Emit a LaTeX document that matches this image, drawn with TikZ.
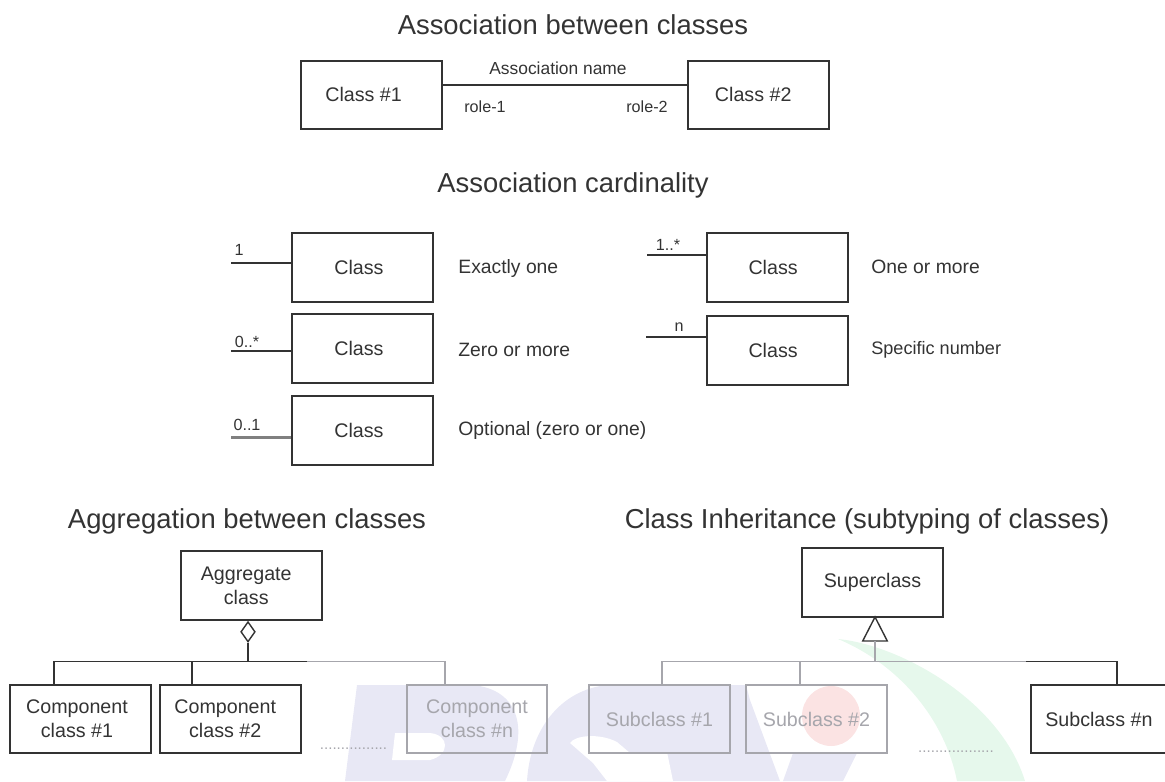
\documentclass[tikz,border=0pt]{standalone}
\usepackage{fontspec}
\setmainfont{Liberation Sans}
\usetikzlibrary{positioning,shapes.geometric}
\definecolor{ink}{HTML}{333333}
\definecolor{fade}{HTML}{A6A6AC}
\definecolor{wmblue}{HTML}{E8E8F5}
\definecolor{wmred}{HTML}{FBE3E3}
\definecolor{wmgreen}{HTML}{E6F8EC}
\tikzset{
  classbox/.style={draw=ink,line width=1pt,minimum width=80pt,minimum height=39pt,inner sep=0pt,align=center,text=ink,font=\fontsize{11.2}{13.5}\selectfont},
  fadebox/.style={classbox,draw=fade,text=fade},
  titletext/.style={text=ink,inner sep=0pt,font=\fontsize{15.6}{18}\selectfont},
  desctext/.style={text=ink,inner sep=0pt,anchor=west,font=\fontsize{11}{13}\selectfont},
  smalltext/.style={text=ink,inner sep=0pt,font=\fontsize{9.2}{11}\selectfont},
  dotstext/.style={text=fade,inner sep=0pt,font=\fontsize{8.6}{9}\selectfont},
  link/.style={draw=ink,line width=1pt},
  fadelink/.style={draw=fade,line width=1pt},
  optlink/.style={draw=gray,line width=1.7pt}
}
\begin{document}
\begin{tikzpicture}[x=0.02cm,y=-0.02cm]
  \useasboundingbox (0,0) rectangle (1165,781);
  % watermark
  \fill[wmblue] (345,781)--(357,685)--(473,685) .. controls (520,690) and (530,730) .. (505,781)--cycle;
  \fill[white] (395,733)--(430,733) .. controls (450,735) and (450,755) .. (430,760)--(392,760)--cycle;
  \fill[wmblue] (527,781) .. controls (530,730) and (560,690) .. (607,685)--(746,685)--(750,700)--(780,781)--cycle;
  \fill[white] (570,743) .. controls (575,735) and (600,733) .. (617,742)--(630,753)--(667,752)--(673,781)--(607,781)--(593,763)--cycle;
  \fill[wmblue] (793,753)--(857,753)--(843,781)--(783,781)--cycle;
  \fill[wmred] (831,716) ellipse (29 and 30);
  \fill[wmgreen] (838,639) .. controls (900,645) and (1000,700) .. (1025,781)--(957,781) .. controls (945,720) and (900,665) .. (838,639)--cycle;

  \node[titletext] (titleassoc) at (573,25) {Association between classes};
  \node[titletext] (titlecard) at (573,185) {Association cardinality};
  \node[titletext] (titleaggr) at (247,521) {Aggregation between classes};
  \node[titletext] (titleinh) at (867,521) {Class Inheritance (subtyping of classes)};

  % association
  \node[classbox] (classone) at (371.5,95) {\raisebox{1pt}{Class \#1}\kern9pt};
  \node[classbox] (classtwo) at (758.5,95) {\raisebox{1pt}{Class \#2}\kern6pt};
  \coordinate (assocline) at (442,85);
  \draw[link] (assocline) -- (assocline -| classtwo.west);
  \node[smalltext,font=\fontsize{9.9}{11}\selectfont] (assocname) at (558,68) {Association name};
  \node[smalltext] (roleone) at (485,107) {role-1};
  \node[smalltext] (roletwo) at (647,107) {role-2};

  % cardinality
  \foreach \name/\x/\y/\nudge/\stubx/\stuby/\stubstyle/\lab/\labx/\laby/\descx/\descy/\desc in {
      cardone/362.5/267.5/4pt/231/263/link/1/239/250/458/268/Exactly one,
      cardzero/362.5/348.5/4pt/231/351/link/0..*/247/342/458/350/Zero or more,
      cardopt/362.5/430.5/4pt/231/437/optlink/0..1/247/425/458/430/Optional (zero or one),
      cardmany/777.5/267.5/5pt/647/255/link/1..*/668/245/871/267/One or more,
      cardn/777.5/350.5/5pt/646/337/link/n/679/327/871/350/{\fontsize{10.3}{13}\selectfont Specific number}} {
    \node[classbox] (\name) at (\x,\y) {Class\kern\nudge};
    \coordinate (\name stub) at (\stubx,\stuby);
    \draw[\stubstyle] (\name stub) -- (\name stub -| \name.west);
    \node[smalltext] (\name lab) at (\labx,\laby) {\lab};
    \node[desctext] (\name desc) at (\descx,\descy) {\desc};
  }

  % aggregation
  \node[classbox] (aggr) at (251.5,585.5) {Aggregate\kern6pt\\class\kern6pt};
  \node[classbox] (compone) at (80.5,719) {Component\kern4pt\\class \#1\kern4pt};
  \node[classbox] (comptwo) at (230.5,719) {Component\kern6pt\\class \#2\kern6pt};
  \node[fadebox] (compn) at (477,719) {Component\\class \#n};
  \node[diamond,draw=ink,fill=white,line width=0.8pt,inner sep=0pt,minimum width=8.2pt,minimum height=11.5pt,anchor=north] (aggrtip) at (248,621) {};
  \coordinate (aggrbus) at (248,661.5);
  \coordinate (aggrfade) at (307,661.5);
  \draw[link] (aggrtip.south) -- (aggrbus);
  \draw[fadelink] (aggrfade) -| (445,684);
  \draw[link] (aggrfade) -- (54,661.5) -- (54,684);
  \draw[link] (192,661.5) -- (192,684);
  \node[dotstext] (aggrdots) at (353.5,749) {................};

  % inheritance
  \node[classbox] (super) at (872.5,582.5) {Superclass};
  \node[fadebox] (subone) at (659.5,719) {Subclass \#1};
  \node[fadebox] (subtwo) at (816.5,719) {Subclass \#2};
  \node[classbox] (subn) at (1101.5,719) {Subclass \#n\kern3pt};
  \coordinate (inhtip) at (875,617);
  \coordinate (inhbase) at (875,641);
  \coordinate (inhbus) at (875,661.5);
  \coordinate (inhdark) at (1026,661.5);
  \draw[ink,fill=white,line width=0.8pt] (inhtip) -- (862.7,641) -- (887.3,641) -- cycle;
  \draw[fadelink] (inhbase) -- (inhbus);
  \draw[fadelink] (inhdark) -- (662,661.5) -- (662,684);
  \draw[fadelink] (800,661.5) -- (800,684);
  \draw[link] (inhdark) -| (1117,684);
  \node[dotstext] (inhdots) at (956,752) {..................};
\end{tikzpicture}
\end{document}
